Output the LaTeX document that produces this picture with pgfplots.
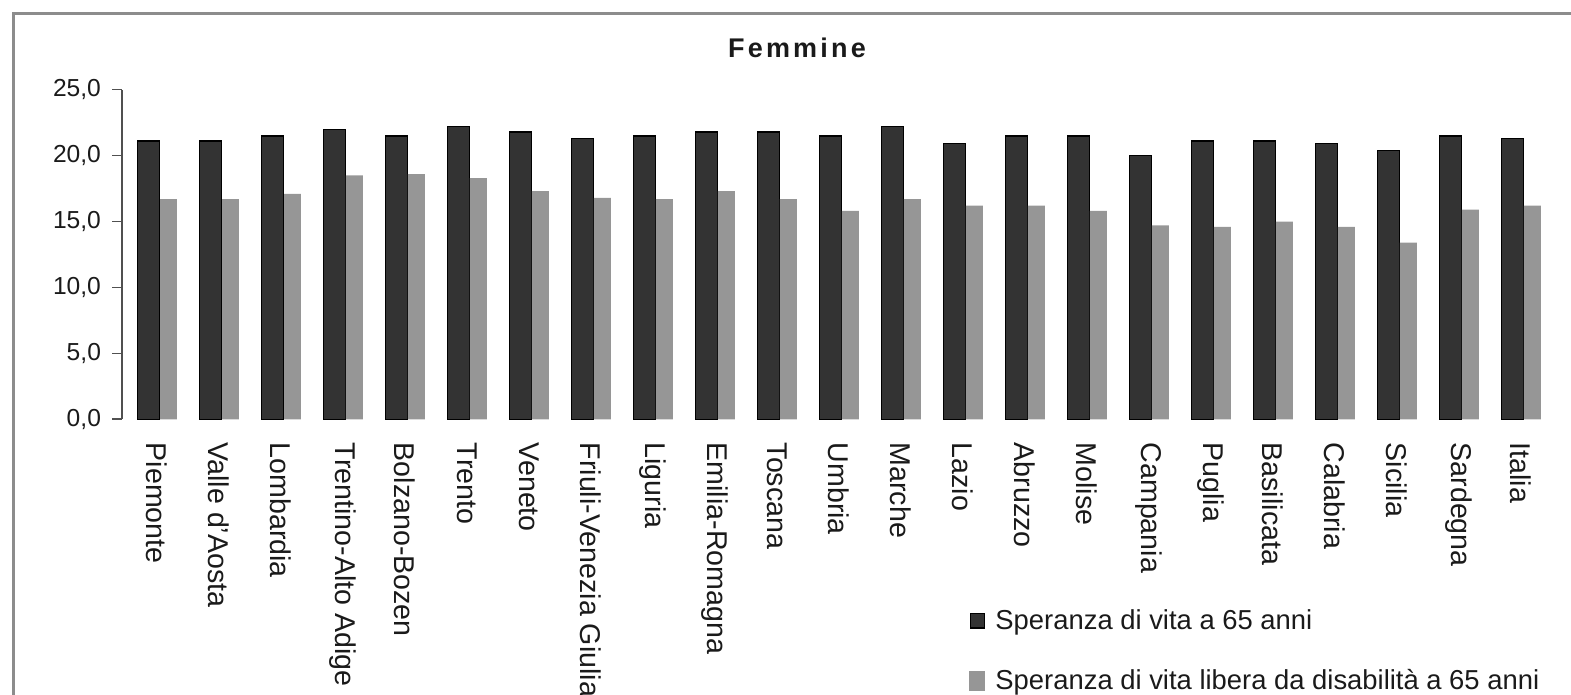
\documentclass[border=0pt]{standalone}
\usepackage{fontspec}
\setmainfont{Liberation Sans}
\usepackage{pgfplots}
\pgfplotsset{compat=1.18}
\usepackage{pgfplotstable}
\definecolor{darkbar}{HTML}{333333}
\definecolor{lightbar}{HTML}{969696}
\definecolor{framegray}{HTML}{8C8C8C}
\definecolor{axisgray}{HTML}{505050}
\definecolor{txt}{HTML}{1A1A1A}

\pgfplotstableread{
x  vita  libera
0  21.1  16.7
1  21.1  16.7
2  21.5  17.1
3  22.0  18.5
4  21.5  18.6
5  22.2  18.3
6  21.8  17.3
7  21.3  16.8
8  21.5  16.7
9  21.8  17.3
10 21.8  16.7
11 21.5  15.8
12 22.2  16.7
13 20.9  16.2
14 21.5  16.2
15 21.5  15.8
16 20.0  14.7
17 21.1  14.6
18 21.1  15.0
19 20.9  14.6
20 20.4  13.4
21 21.5  15.9
22 21.3  16.2
}\datatable

\begin{document}
\begin{tikzpicture}
\useasboundingbox (0,0) rectangle (785.5pt,347.5pt);
\draw[framegray, line width=1.6pt] (6.6pt,-5pt) -- (6.6pt,340.6pt) -- (792pt,340.6pt);
\node[font=\bfseries\fontsize{13.5}{15}\selectfont, text=txt] at (398.5pt,323.5pt)
  {F\kern1.6pt e\kern1.6pt m\kern1.6pt m\kern1.6pt i\kern1.6pt n\kern1.6pt e};
\begin{axis}[
  at={(61pt,137.85pt)}, anchor=south west,
  scale only axis, width=717pt, height=164.8pt,
  xmin=-0.565, xmax=22.565,
  ymin=0, ymax=25,
  axis lines*=left,
  x axis line style={draw=none},
  y axis line style={axisgray, line width=0.8pt},
  xtick={0,...,22},
  xticklabels={Piemonte,Valle d'Aosta,Lombardia,Trentino-Alto Adige,Bolzano-Bozen,Trento,Veneto,Friuli-Venezia Giulia,Liguria,Emilia-Romagna,Toscana,Umbria,Marche,Lazio,Abruzzo,Molise,Campania,Puglia,Basilicata,Calabria,Sicilia,Sardegna,Italia},
  xtick style={draw=none},
  xticklabel style={rotate=-90, anchor=west, inner xsep=6.5pt,
    font=\fontsize{14.3}{16}\selectfont, text=txt},
  xtick pos=bottom,
  ytick={0,5,...,25},
  ytick style={axisgray, line width=0.8pt},
  tick align=outside,
  major tick length=5pt,
  yticklabel style={font=\fontsize{12.3}{14}\selectfont, text=txt, xshift=-2pt},
  /pgf/number format/.cd, fixed, fixed zerofill, precision=1, use comma, assume math mode=true,
  /pgfplots/.cd,
  legend style={at={(axis description cs:0.5907,-0.575)}, anchor=north west,
    draw=none, fill=none, inner sep=0pt, row sep=18.5pt,
    font=\fontsize{13.7}{16}\selectfont,
    nodes={inner sep=0pt, text=txt, anchor=west}},
  legend cell align=left,
]
\addplot[ybar, bar width=0.355, bar shift=-0.137, fill=darkbar, draw=black, line width=0.7pt,
  legend image code/.code={\draw[fill=darkbar, draw=black, line width=0.7pt] (0.4pt,-3.6pt) rectangle (7.6pt,3.6pt); \path[draw=none, fill=none] (0pt,0pt) -- (13pt,0pt);}]
  table[x=x, y=vita] {\datatable};
\addlegendentry{Speranza di vita a 65 anni}
\addplot[ybar, bar width=0.274, bar shift=0.185, fill=lightbar, draw=none,
  legend image code/.code={\fill[lightbar] (0pt,-5pt) rectangle (8pt,5pt); \path[draw=none, fill=none] (0pt,0pt) -- (13pt,0pt);}]
  table[x=x, y=libera] {\datatable};
\addlegendentry{Speranza di vita libera da disabilità a 65 anni}
\end{axis}
\end{tikzpicture}
\end{document}
